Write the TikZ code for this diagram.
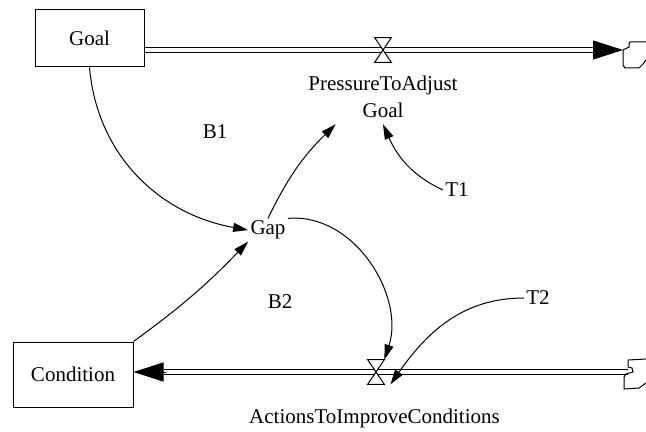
\documentclass[tikz,border=0pt]{standalone}
\usepackage{fontspec}
\setmainfont{Liberation Serif}
\usepackage{tikz}
\usetikzlibrary{positioning, arrows.meta}

\begin{document}
\begin{tikzpicture}[x=0.5pt, y=-0.5pt,
                    every node/.style={font=\fontsize{10.5}{13.5}\selectfont, inner sep=1pt},
                    stock/.style={draw, line width=0.5pt, inner sep=0pt},
                    valve/.style={minimum width=8pt, minimum height=12pt, inner sep=0pt},
                    valvebody/.style={draw, fill=white, line width=0.5pt},
                    pipe/.style={draw, line width=0.5pt, double=white, double distance=2.3pt},
                    flowtip/.style={-{Triangle[length=15pt, width=9.5pt]}, line width=0.5pt},
                    link/.style={-{Triangle[length=7.5pt, width=4.5pt]}, line width=0.5pt},
                    cloud/.style={draw, line width=0.5pt}]
                    \useasboundingbox (0,0) rectangle (646,432);

                    % Nodes
                    \node[stock, minimum width=54.5pt, minimum height=28.5pt] (goal) at (89.5, 38.5) {Goal};
                    \node[stock, minimum width=60pt, minimum height=32.5pt] (cond) at (73, 374.5) {Condition};
                    \node (gap) at (268, 230) {Gap};
                    \node (b1) at (215, 132) {B1};
                    \node (b2) at (280, 302) {B2};
                    \node (t1) at (457, 190) {T1};
                    \node (t2) at (538, 298) {T2};
                    \node[align=center, inner sep=3pt] (pta) at (383, 97) {PressureToAdjust\\Goal};
                    \node (aic) at (374.5, 418) {ActionsToImproveConditions};
                    \coordinate (c1) at (623, 50);
                    \coordinate (c2) at (628, 372);
                    \coordinate (f2) at (cond.east |- c2);
                    \node[valve] (v1) at (383, 50) {};
                    \node[valve] (v2) at (376, 372) {};

                    % Flows
                    % goal to cloud
                    \draw[pipe, shorten >=14pt] (goal.east |- c1) -- (c1);
                    \draw[flowtip] ([xshift=-15pt]c1) -- (c1);
                    \draw[valvebody] (v1.north west) -- (v1.north east) -- (v1.south west) -- (v1.south east) -- cycle;

                    % cloud to condition
                    \draw[pipe, shorten >=15pt] (c2) -- (f2);
                    \draw[flowtip] ([xshift=16pt]f2) -- (f2);
                    \draw[valvebody] (v2.north west) -- (v2.north east) -- (v2.south west) -- (v2.south east) -- cycle;

                    % Clouds
                    \draw[cloud, shift={(c1)}] (23,-8) -- (7,-8) -- (6,-6) -- (6,-3) -- (0,0) -- (0,15) -- (2,18) -- (16,18) -- (20,14) -- (23,10);
                    \draw[cloud, shift={(c2)}] (18,-13) -- (0,-12) -- (0,-5) -- (4,-4) -- (5,0) -- (-2,2) -- (-4,5) -- (-4,17) -- (11,16) -- (18,11);

                    % Links
                    % goal to gap
                    \draw[link] (goal.south) to [out=-85, in=170] (gap.west);

                    % condition to gap
                    \draw[link] (cond.north east) to [bend right=5] (gap.south west);

                    % gap to pressure
                    \draw[link] (gap.north) to [bend left=10] (pta.-150);

                    % T1 to pressure
                    \draw[link] (t1.west) to [out=155, in=-66] (pta.south);

                    % gap to actions
                    \draw[link] (gap.north east) to [out=5, in=72] (v2.north east);

                    % T2 to actions
                    \draw[link] (t2.west) to [out=180, in=55] ([xshift=3pt]v2.south east);

                \end{tikzpicture}
\end{document}
